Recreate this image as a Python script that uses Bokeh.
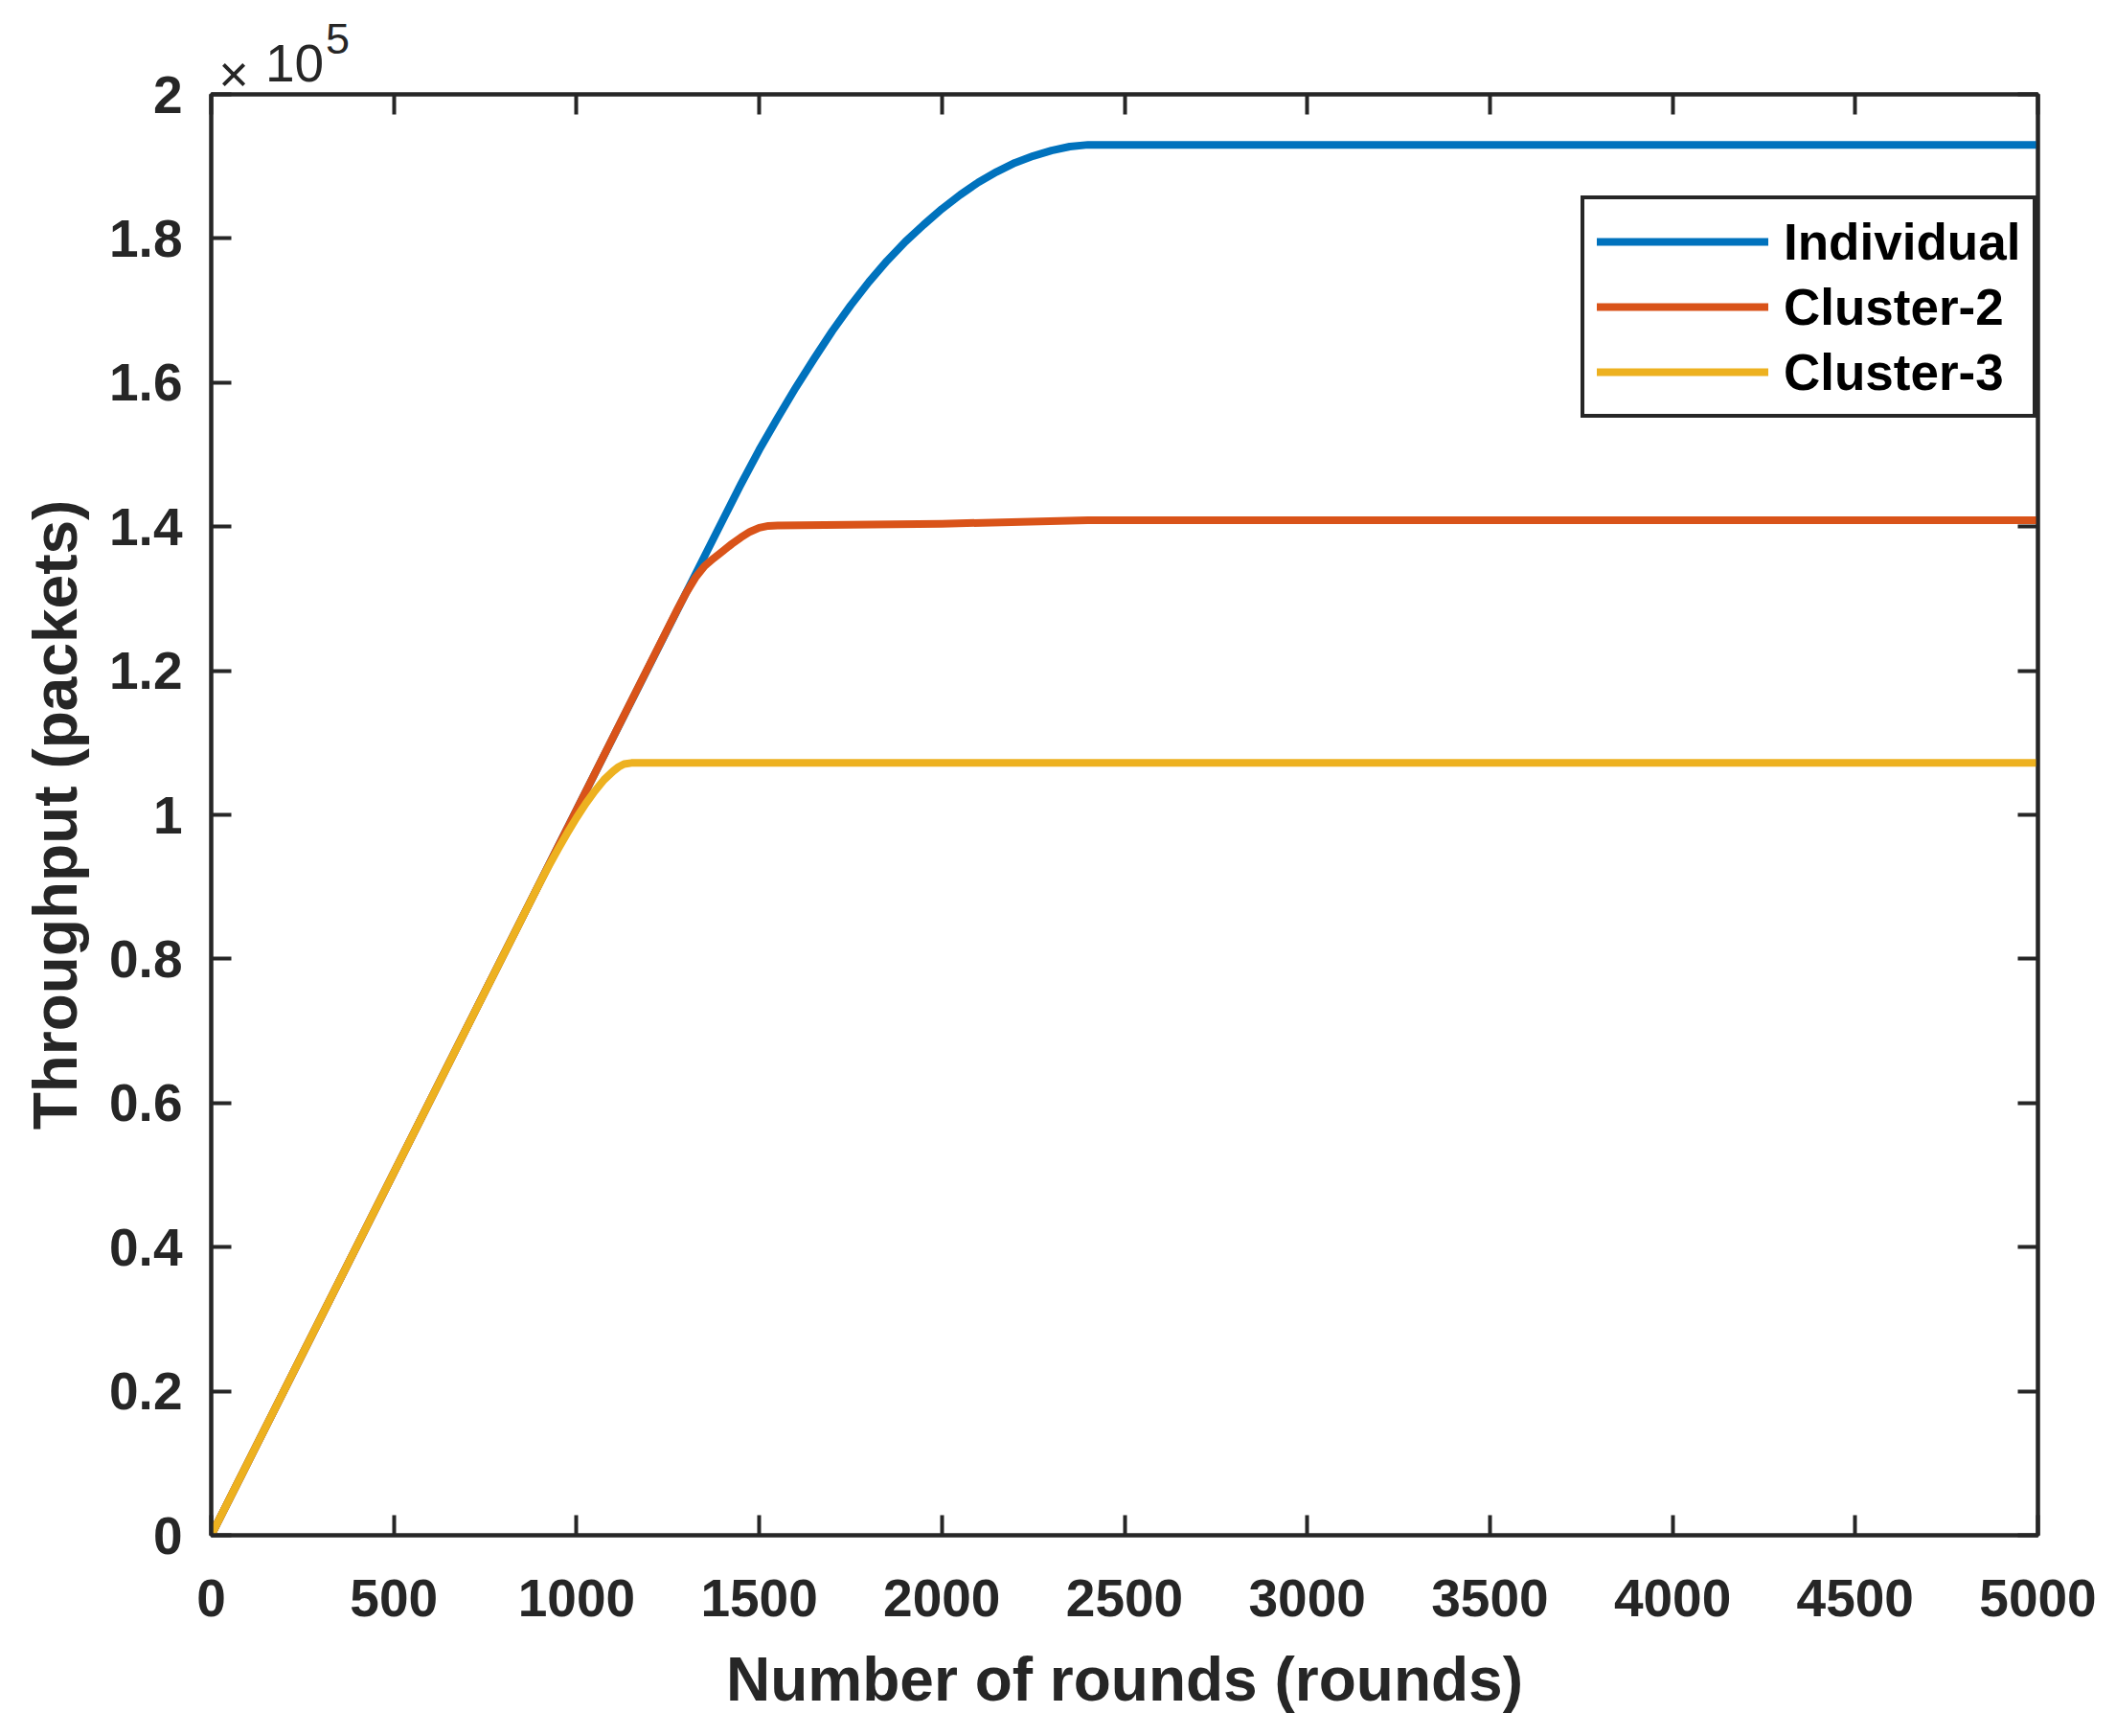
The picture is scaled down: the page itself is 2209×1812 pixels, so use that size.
from bokeh.plotting import figure
from bokeh.models import (Range1d, FixedTicker, LinearAxis, Legend, LegendItem, Label)
from bokeh.embed import file_html
from bokeh.resources import INLINE

# ---------------- data ----------------
individual_rounds = [0, 500, 1000, 1400, 1450, 1500, 1550, 1600, 1650, 1700, 1750, 1800,
                     1850, 1900, 1950, 2000, 2050, 2100, 2150, 2200, 2250, 2300, 2350,
                     2400, 2450, 5000]
individual_values = [0, 50350, 100700, 140900, 145900, 150650, 155050, 159300, 163300,
                     167150, 170700, 173950, 176900, 179550, 181900, 184100, 186050,
                     187800, 189250, 190500, 191450, 192200, 192750, 193000, 193000, 193000]

cluster2_rounds = [0, 500, 1000, 1250, 1275, 1300, 1325, 1350, 1375, 1400, 1425, 1450,
                   1475, 1500, 1525, 1550, 2000, 2400, 5000]
cluster2_values = [0, 50350, 100700, 125900, 128400, 130800, 132900, 134500, 135600,
                   136600, 137600, 138500, 139300, 139850, 140100, 140150, 140400,
                   140900, 140900]

cluster3_rounds = [0, 500, 900, 925, 950, 975, 1000, 1025, 1050, 1075, 1100, 1115, 1130,
                   1150, 5000]
cluster3_values = [0, 50350, 90600, 93000, 95300, 97500, 99600, 101550, 103300, 104850,
                   106050, 106650, 107050, 107200, 107200]

series_names = ["Individual", "Cluster-2", "Cluster-3"]
series_colors = ["#0072BD", "#D95319", "#EDB120"]

x_ticks = [0, 500, 1000, 1500, 2000, 2500, 3000, 3500, 4000, 4500, 5000]
y_ticks = [0, 20000, 40000, 60000, 80000, 100000, 120000, 140000, 160000, 180000, 200000]
y_tick_labels = ["0", "0.2", "0.4", "0.6", "0.8", "1", "1.2", "1.4", "1.6", "1.8", "2"]

x_label = "Number of rounds (rounds)"
y_label = "Throughput (packets)"

# ---------------- figure ----------------
FONT = "Liberation Sans"
INK = "#262626"

p = figure(width=2209, height=1812, output_backend="svg", toolbar_location=None,
           x_range=Range1d(0, 5000), y_range=Range1d(0, 200000),
           min_border_left=220, min_border_right=82, min_border_top=98,
           min_border_bottom=210, x_axis_label=x_label, y_axis_label=y_label)
p.background_fill_color = "white"
p.border_fill_color = "white"
p.grid.visible = False
p.outline_line_color = INK
p.outline_line_width = 4

def style_axis(ax, ticks, show_labels):
    ax.ticker = FixedTicker(ticks=ticks)
    ax.axis_line_color = INK
    ax.axis_line_width = 4
    ax.major_tick_line_color = INK
    ax.major_tick_line_width = 4
    ax.major_tick_in = 21
    ax.major_tick_out = 0
    ax.minor_tick_line_color = None
    if show_labels:
        ax.major_label_text_font = FONT
        ax.major_label_text_font_style = "bold"
        ax.major_label_text_font_size = "55px"
        ax.major_label_text_color = INK
        ax.axis_label_text_font = FONT
        ax.axis_label_text_font_style = "bold"
        ax.axis_label_text_font_size = "64px"
        ax.axis_label_text_color = INK
    else:
        ax.major_label_text_font_size = "0px"
        ax.major_label_standoff = 0

xa = p.xaxis[0]
ya = p.yaxis[0]
style_axis(xa, x_ticks, True)
style_axis(ya, y_ticks, True)
xa.major_label_standoff = 46
xa.axis_label_standoff = 27
ya.major_label_standoff = 30
ya.axis_label_standoff = 17
ya.major_label_overrides = {t: s for t, s in zip(y_ticks, y_tick_labels)}

top_axis = LinearAxis()
right_axis = LinearAxis()
style_axis(top_axis, x_ticks, False)
style_axis(right_axis, y_ticks, False)
p.add_layout(top_axis, "above")
p.add_layout(right_axis, "right")

# ---------------- lines ----------------
renderers = []
for xs, ys, c in [(individual_rounds, individual_values, series_colors[0]),
                  (cluster2_rounds, cluster2_values, series_colors[1]),
                  (cluster3_rounds, cluster3_values, series_colors[2])]:
    r = p.line(xs, ys, line_color=c, line_width=8, line_join="round", line_cap="round")
    renderers.append(r)

legend = Legend(items=[LegendItem(label=n, renderers=[r]) for n, r in zip(series_names, renderers)],
                location=(1430, 1166))
legend.label_text_font = FONT
legend.label_text_font_style = "bold"
legend.label_text_font_size = "53px"
legend.label_text_color = "black"
legend.glyph_width = 179
legend.glyph_height = 62
legend.label_height = 62
legend.label_standoff = 16
legend.spacing = 6
legend.padding = 13
legend.margin = 0
legend.border_line_color = INK
legend.border_line_alpha = 1
legend.border_line_width = 4
legend.background_fill_color = "white"
legend.background_fill_alpha = 1
p.add_layout(legend)

# ---------------- exponent label (x10^5), outside the frame ----------------
p.add_layout(Label(x=20, y=202900, text="\u00d7", text_font=FONT, text_font_size="54px",
                   text_color=INK, text_align="left", text_baseline="alphabetic"), "above")
p.add_layout(Label(x=148, y=204360, text="10", text_font=FONT, text_font_size="55px",
                   text_color=INK, text_align="left", text_baseline="alphabetic"), "above")
p.add_layout(Label(x=313, y=207700, text="5", text_font=FONT, text_font_size="45px",
                   text_color=INK, text_align="left", text_baseline="alphabetic"), "right")

open("out.html", "w").write(file_html(p, INLINE))
